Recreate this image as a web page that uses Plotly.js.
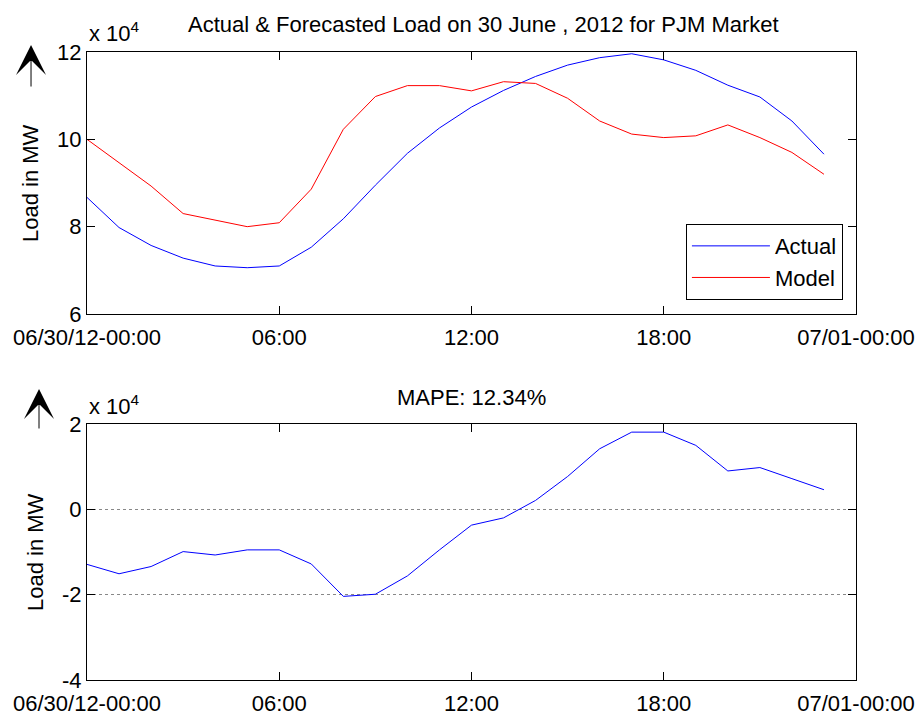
<!DOCTYPE html>
<html>
<head>
<meta charset="utf-8">
<script src="https://cdn.plot.ly/plotly-3.0.1.min.js"></script>
<style>
  html, body { margin: 0; padding: 0; background: #fff; }
  #chart { width: 918px; height: 715px; }
</style>
</head>
<body>
<div id="chart"></div>
<script>
// Hour of day (30 June 2012), one sample per hour
const hours = [0, 1, 2, 3, 4, 5, 6, 7, 8, 9, 10, 11, 12, 13, 14, 15, 16, 17, 18, 19, 20, 21, 22, 23];

// Actual PJM load, MW
const actualLoad = [86700, 79800, 75700, 72800, 71000, 70600, 71000, 75300, 81800, 89500, 96800, 102600,
                    107400, 111200, 114400, 117000, 118700, 119600, 118200, 115800, 112400, 109700, 104200, 96600];

// Forecasted (model) load, MW
const modelLoad = [100000, 94700, 89300, 83000, 81500, 80000, 80900, 88600, 102300, 109800, 112300, 112300,
                   111100, 113200, 112800, 109400, 104200, 101200, 100400, 100800, 103300, 100400, 97000, 92000];

// Forecast error (actual - model), MW
const errorLoad = [-12900, -15100, -13400, -9900, -10700, -9500, -9500, -12800, -20400, -19900, -15600, -9500,
                   -3700, -2000, 2100, 7700, 14200, 18100, 18100, 15000, 9000, 9800, 7200, 4600];

// Axis ticks
const xTickVals = [0, 6, 12, 18, 24];
const xTickText = ['06/30/12-00:00', '06:00', '12:00', '18:00', '07/01-00:00'];
const loadTickVals = [60000, 80000, 100000, 120000];
const loadTickText = ['6', '8', '10', '12'];
const errTickVals = [-40000, -20000, 0, 20000];
const errTickText = ['-4', '-2', '0', '2'];

const FONT = 'Liberation Sans, Arial, Helvetica, sans-serif';
const FS = 22;

const traces = [
  { x: hours, y: actualLoad, name: 'Actual', type: 'scatter', mode: 'lines',
    line: { color: '#0000ff', width: 1 }, xaxis: 'x', yaxis: 'y' },
  { x: hours, y: modelLoad, name: 'Model', type: 'scatter', mode: 'lines',
    line: { color: '#ff0000', width: 1 }, xaxis: 'x', yaxis: 'y' },
  { x: hours, y: errorLoad, name: 'Error', type: 'scatter', mode: 'lines', showlegend: false,
    line: { color: '#0000ff', width: 1 }, xaxis: 'x2', yaxis: 'y2' }
];

function xAxis(anchor) {
  return {
    anchor: anchor, domain: [0, 1], range: [0, 24],
    tickmode: 'array', tickvals: xTickVals, ticktext: xTickText,
    ticks: 'inside', ticklen: 8, tickwidth: 1, tickcolor: '#000',
    ticklabelstandoff: 4,
    showline: true, linecolor: '#000', linewidth: 1, mirror: 'allticks',
    showgrid: false, zeroline: false,
    tickfont: { family: FONT, size: FS, color: '#000' }
  };
}

const layout = {
  width: 918, height: 715,
  margin: { l: 87, r: 62, t: 52, b: 35 },
  paper_bgcolor: '#fff', plot_bgcolor: '#fff',
  font: { family: FONT, size: FS, color: '#000' },
  showlegend: true,
  legend: {
    x: 0.983, y: 0.605, xanchor: 'right', yanchor: 'bottom',
    bgcolor: '#fff', bordercolor: '#000', borderwidth: 1,
    font: { family: FONT, size: FS, color: '#000' },
    itemwidth: 78
  },
  xaxis: xAxis('y'),
  xaxis2: xAxis('y2'),
  yaxis: {
    anchor: 'x', domain: [0.5828, 1], range: [60000, 120000],
    tickmode: 'array', tickvals: loadTickVals, ticktext: loadTickText,
    ticks: 'inside', ticklen: 8, tickwidth: 1, tickcolor: '#000',
    showline: true, linecolor: '#000', linewidth: 1, mirror: 'allticks',
    showgrid: false, zeroline: false,
    tickfont: { family: FONT, size: FS, color: '#000' }
  },
  yaxis2: {
    anchor: 'x2', domain: [0, 0.4076], range: [-40000, 20000],
    tickmode: 'array', tickvals: errTickVals, ticktext: errTickText,
    ticks: 'inside', ticklen: 8, tickwidth: 1, tickcolor: '#000',
    showline: true, linecolor: '#000', linewidth: 1, mirror: 'allticks',
    showgrid: true, gridcolor: '#888', gridwidth: 1, griddash: 'dot',
    zeroline: false,
    tickfont: { family: FONT, size: FS, color: '#000' }
  },
  annotations: [
    { text: 'Actual &amp; Forecasted Load on 30 June , 2012 for PJM Market', xref: 'paper', yref: 'paper',
      x: 0.515, y: 1.043, xanchor: 'center', yanchor: 'middle', showarrow: false,
      font: { family: FONT, size: FS, color: '#000' } },
    { text: 'MAPE: 12.34%', xref: 'paper', yref: 'paper',
      x: 0.5, y: 0.4506, xanchor: 'center', yanchor: 'middle', showarrow: false,
      font: { family: FONT, size: FS, color: '#000' } },
    { text: 'x 10<sup>4</sup>', xref: 'paper', yref: 'paper',
      x: 0, y: 1.006, xanchor: 'left', yanchor: 'bottom', showarrow: false,
      font: { family: FONT, size: FS, color: '#000' } },
    { text: 'x 10<sup>4</sup>', xref: 'paper', yref: 'paper',
      x: 0, y: 0.413, xanchor: 'left', yanchor: 'bottom', showarrow: false,
      font: { family: FONT, size: FS, color: '#000' } },
    { text: 'Load in MW', xref: 'paper', yref: 'paper', textangle: -90,
      x: -0.0741, y: 0.7914, xanchor: 'center', yanchor: 'middle', showarrow: false,
      font: { family: FONT, size: FS, color: '#000' } },
    { text: 'Load in MW', xref: 'paper', yref: 'paper', textangle: -90,
      x: -0.0676, y: 0.2038, xanchor: 'center', yanchor: 'middle', showarrow: false,
      font: { family: FONT, size: FS, color: '#000' } },
    { text: '', xref: 'paper', yref: 'paper', x: -0.0728, y: 1.0111,
      showarrow: true, arrowhead: 3, arrowsize: 5, arrowwidth: 1, arrowcolor: '#000',
      ax: 0, ay: 43 },
    { text: '', xref: 'paper', yref: 'paper', x: -0.0624, y: 0.4634,
      showarrow: true, arrowhead: 3, arrowsize: 5, arrowwidth: 1, arrowcolor: '#000',
      ax: 0, ay: 41 }
  ]
};

Plotly.newPlot('chart', traces, layout, { displayModeBar: false, staticPlot: true });
</script>
</body>
</html>
